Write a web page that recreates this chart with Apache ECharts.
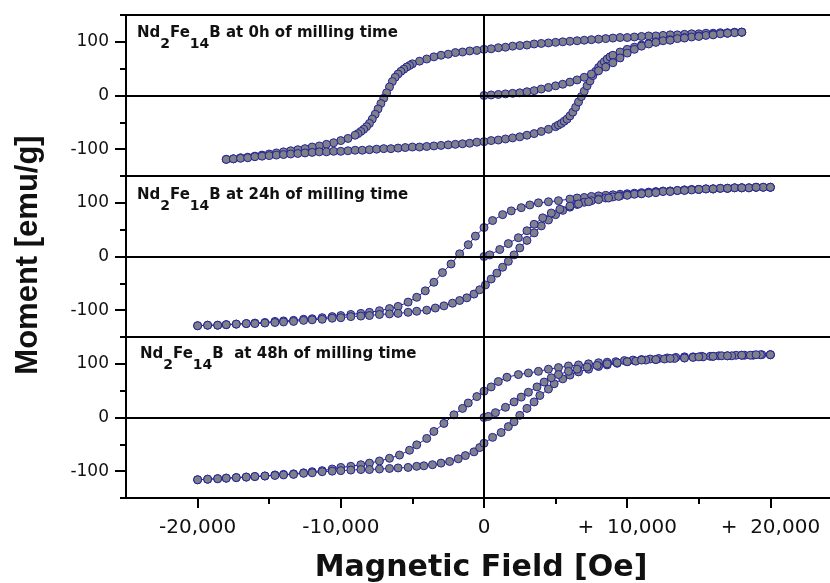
<!DOCTYPE html>
<html>
<head>
<meta charset="utf-8">
<script src="https://cdn.jsdelivr.net/npm/echarts@6/dist/echarts.min.js"></script>
<style>
html,body{margin:0;padding:0;background:#fff}
#chart{width:830px;height:583px}
</style>
</head>
<body>
<div id="chart"></div>
<script>
var millingTimes = ['0h', '24h', '48h'];
var fieldTicks = [-20000, -10000, 0, 10000, 20000];
var fieldMinorTicks = [-15000, -5000, 5000, 15000];
var momentTicks = [-100, 0, 100];
var momentMinorTicks = [-150, -50, 50, 150];

// 0h : [field Oe, moment emu/g]
var loop0hDown = [[18000,118],[17500,118],[17000,117],[16500,117],[16000,116],[15500,116],[15000,115],[14500,115],[14000,114],[13500,113],[13000,113],[12500,112],[12000,111],[11500,111],[11000,110],[10500,109],[10000,108],[9500,108],[9000,107],[8500,106],[8000,105],[7500,104],[7000,103],[6500,102],[6000,101],[5500,100],[5000,99],[4500,98],[4000,97],[3500,96],[3000,94],[2500,93],[2000,92],[1500,90],[1000,89],[500,87],[0,86],[-500,84],[-1000,83],[-1500,81],[-2000,80],[-2500,77],[-3000,75],[-3500,72],[-4000,68],[-4500,64],[-5000,59],[-5200,56],[-5400,53],[-5600,49],[-5800,45],[-6000,40],[-6200,34],[-6400,26],[-6600,16],[-6800,5],[-7000,-5],[-7200,-15],[-7400,-25],[-7600,-35],[-7800,-44],[-8000,-52],[-8200,-58],[-8400,-63],[-8600,-67],[-8800,-71],[-9000,-74],[-9500,-80],[-10000,-84],[-10500,-88],[-11000,-91],[-11500,-94],[-12000,-96],[-12500,-99],[-13000,-101],[-13500,-103],[-14000,-105],[-14500,-107],[-15000,-109],[-15500,-111],[-16000,-113],[-16500,-115],[-17000,-116],[-17500,-118],[-18000,-119]];
var loop0hUp = [[-18000,-119],[-17500,-118],[-17000,-117],[-16500,-116],[-16000,-114],[-15500,-113],[-15000,-112],[-14500,-111],[-14000,-110],[-13500,-109],[-13000,-108],[-12500,-107],[-12000,-106],[-11500,-105],[-11000,-105],[-10500,-104],[-10000,-104],[-9500,-103],[-9000,-102],[-8500,-102],[-8000,-101],[-7500,-100],[-7000,-99],[-6500,-99],[-6000,-98],[-5500,-97],[-5000,-96],[-4500,-96],[-4000,-95],[-3500,-94],[-3000,-93],[-2500,-92],[-2000,-91],[-1500,-90],[-1000,-89],[-500,-87],[0,-86],[500,-84],[1000,-83],[1500,-81],[2000,-79],[2500,-77],[3000,-74],[3500,-71],[4000,-67],[4500,-63],[5000,-58],[5200,-55],[5400,-52],[5600,-48],[5800,-44],[6000,-38],[6200,-31],[6400,-22],[6600,-12],[6800,-2],[7000,8],[7200,18],[7400,27],[7600,37],[7800,45],[8000,52],[8200,58],[8400,63],[8600,68],[8800,72],[9000,75],[9500,81],[10000,86],[10500,90],[11000,94],[11500,97],[12000,100],[12500,102],[13000,104],[13500,106],[14000,108],[14500,109],[15000,111],[15500,112],[16000,114],[16500,115],[17000,116],[17500,117],[18000,118]];
var loop0hInitial = [[0,0],[500,1],[1000,2],[1500,3],[2000,4],[2500,5],[3000,7],[3500,9],[4000,12],[4500,15],[5000,18],[5500,21],[6000,25],[6500,29],[7000,34],[7500,40],[8000,46],[8500,53],[9000,61],[9500,70],[10000,79],[10500,86],[11000,92],[11500,96],[12000,99],[13000,103],[14000,107],[15000,110],[16000,113],[17000,116],[18000,118]];

// 24h
var loop24hDown = [[20000,129],[19500,129],[19000,129],[18500,128],[18000,128],[17500,128],[17000,127],[16500,127],[16000,126],[15500,126],[15000,125],[14500,125],[14000,124],[13500,123],[13000,122],[12500,122],[12000,121],[11500,120],[11000,119],[10500,118],[10000,117],[9500,116],[9000,115],[8500,114],[8000,113],[7500,112],[7000,110],[6500,109],[6000,107],[5200,104],[4500,102],[3800,100],[3200,96],[2600,91],[1900,85],[1300,78],[600,67],[0,54],[-600,38],[-1100,22],[-1700,5],[-2300,-14],[-2900,-30],[-3500,-48],[-4100,-64],[-4700,-76],[-5300,-85],[-6000,-93],[-6600,-97],[-7300,-101],[-8000,-104],[-8600,-106],[-9300,-108],[-10000,-110],[-10600,-112],[-11300,-114],[-12000,-116],[-12600,-117],[-13300,-119],[-14000,-120],[-14600,-121],[-15300,-123],[-16000,-124],[-16600,-125],[-17300,-126],[-18000,-127],[-18600,-128],[-19300,-128],[-20000,-129]];
var loop24hUp = [[-20000,-129],[-19300,-128],[-18600,-128],[-18000,-127],[-17300,-126],[-16600,-125],[-16000,-125],[-15300,-124],[-14600,-123],[-14000,-122],[-13300,-121],[-12600,-119],[-12000,-118],[-11300,-117],[-10600,-115],[-10000,-114],[-9300,-112],[-8600,-111],[-8000,-110],[-7300,-108],[-6600,-107],[-6000,-106],[-5300,-104],[-4700,-102],[-4000,-100],[-3400,-96],[-2800,-92],[-2200,-87],[-1700,-82],[-1200,-77],[-700,-70],[-300,-62],[100,-53],[500,-42],[900,-31],[1300,-20],[1700,-9],[2100,3],[2500,16],[3000,30],[3500,44],[4000,57],[4500,68],[5000,78],[5500,86],[6000,92],[6500,97],[7000,101],[7500,104],[8000,107],[8500,109],[9000,111],[9500,113],[10000,115],[10500,116],[11000,117],[11500,118],[12000,120],[12500,121],[13000,122],[13500,123],[14000,124],[14500,124],[15000,125],[15500,126],[16000,126],[16500,127],[17000,127],[17500,128],[18000,128],[18500,128],[19000,129],[19500,129],[20000,129]];
var loop24hInitial = [[0,0],[400,3],[1100,13],[1700,24],[2400,35],[3000,48],[3500,60],[4100,72],[4700,81],[5300,88],[6000,94],[6600,98],[7300,102],[8000,106],[8700,109],[9400,112],[10000,114],[11000,117],[12000,119],[13000,121],[14000,123],[15000,125],[16000,126],[17000,127],[18000,128],[19000,129],[20000,129]];

// 48h
var loop48hDown = [[20000,117],[19400,117],[18800,116],[18200,116],[17600,116],[17000,115],[16400,115],[15800,114],[15200,114],[14600,113],[14000,113],[13400,112],[12800,111],[12200,110],[11600,109],[11000,108],[10400,107],[9800,106],[9200,104],[8600,103],[8000,102],[7300,100],[6600,98],[5900,96],[5200,93],[4500,90],[3800,86],[3100,83],[2400,80],[1600,75],[1000,67],[500,57],[0,49],[-500,39],[-1100,27],[-1500,17],[-2100,5],[-2800,-11],[-3500,-26],[-4000,-39],[-4700,-51],[-5200,-61],[-5900,-70],[-6600,-76],[-7300,-81],[-8000,-85],[-8600,-88],[-9300,-91],[-10000,-93],[-10600,-96],[-11300,-99],[-12000,-101],[-12600,-103],[-13300,-105],[-14000,-106],[-14600,-107],[-15300,-109],[-16000,-110],[-16600,-111],[-17300,-112],[-18000,-113],[-18600,-114],[-19300,-115],[-20000,-116]];
var loop48hUp = [[-20000,-116],[-19300,-115],[-18600,-114],[-18000,-113],[-17300,-112],[-16600,-111],[-16000,-110],[-15300,-109],[-14600,-108],[-14000,-107],[-13300,-106],[-12600,-104],[-12000,-103],[-11300,-101],[-10600,-100],[-10000,-99],[-9300,-98],[-8600,-97],[-8000,-97],[-7300,-96],[-6600,-95],[-6000,-94],[-5300,-93],[-4700,-91],[-4200,-90],[-3600,-88],[-3000,-85],[-2400,-82],[-1800,-77],[-1300,-71],[-700,-64],[-300,-56],[0,-48],[600,-37],[1200,-28],[1700,-17],[2100,-8],[2500,4],[3000,17],[3500,29],[3900,41],[4500,53],[4900,63],[5500,72],[6000,79],[6600,85],[7300,90],[8000,95],[8600,98],[9300,101],[10000,104],[10600,105],[11300,107],[12000,108],[12600,109],[13300,110],[14000,111],[14600,112],[15300,113],[16000,114],[16600,115],[17300,115],[18000,116],[18600,116],[19300,117],[20000,117]];
var loop48hInitial = [[0,0],[300,2],[800,9],[1500,19],[2100,29],[2600,38],[3100,47],[3700,57],[4200,66],[4700,74],[5200,80],[5900,86],[6500,90],[7200,94],[7900,97],[8600,100],[9300,102],[10000,104],[11000,107],[12000,108],[13000,110],[14000,111],[15000,113],[16000,114],[17000,115],[18000,116],[19000,117],[20000,117]];

var loops = [
    [loop0hDown, loop0hUp, loop0hInitial],
    [loop24hDown, loop24hUp, loop24hInitial],
    [loop48hDown, loop48hUp, loop48hInitial]
];

var chart = echarts.init(document.getElementById('chart'));
var panelTops = [15, 176, 337];
var panelTitleTops = [26, 188, 347];
var panelTitleLefts = [137, 137, 140];
var font = 'DejaVu Sans';

function fmtField(v){
    if(v === 0) return '0';
    var s = Math.abs(v).toString().replace(/\B(?=(\d{3})+(?!\d))/g, ',');
    return v < 0 ? '-' + s : '+  ' + s;
}

var grids = [], xAxes = [], yAxes = [], series = [], titles = [];
panelTops.forEach(function(top, i){
    // plot area runs past the right edge of the canvas, as in the cropped original
    grids.push({left: 126, width: 716, top: top, height: 161, show: true,
        outerBoundsMode: 'none', containLabel: false,
        borderColor: '#000', borderWidth: 2, backgroundColor: 'transparent'});
    xAxes.push({
        gridIndex: i, type: 'value', min: -25000, max: 25000, interval: 5000, position: 'bottom',
        splitLine: {show: false},
        axisLine: {onZero: false, lineStyle: {color: '#000', width: 2}},
        axisTick: {show: i === 2, customValues: fieldTicks, length: 10, lineStyle: {color: '#000', width: 2}},
        axisLabel: {show: i === 2, customValues: fieldTicks, formatter: fmtField, margin: 20,
            fontFamily: font, fontSize: 20, color: '#111'}
    });
    yAxes.push({
        gridIndex: i, type: 'value', min: -150, max: 150, interval: 50, position: 'left',
        splitLine: {show: false},
        axisLine: {onZero: false, lineStyle: {color: '#000', width: 2}},
        axisTick: {customValues: momentTicks, length: 11, lineStyle: {color: '#000', width: 2}},
        axisLabel: {customValues: momentTicks, margin: 17, fontFamily: font, fontSize: 17, color: '#111'}
    });
    var names = ['down', 'up', 'initial'];
    loops[i].forEach(function(pts, k){
        var s = {
            type: 'line', name: millingTimes[i] + ' ' + names[k],
            xAxisIndex: i, yAxisIndex: i, data: pts,
            symbol: 'circle', symbolSize: 8, showSymbol: true,
            itemStyle: {color: '#808088', borderColor: '#22229a', borderWidth: 1},
            lineStyle: {color: '#22229a', width: 1},
            clip: true, silent: true
        };
        if(k === 0){
            s.markLine = {silent: true, symbol: 'none', label: {show: false},
                lineStyle: {color: '#000', width: 2, type: 'solid'},
                data: [{yAxis: 0}, {xAxis: 0}]};
        }
        series.push(s);
    });
    var gap = i === 2 ? '  ' : ' ';
    titles.push({
        left: panelTitleLefts[i], top: panelTitleTops[i], padding: 0,
        text: '{n|Nd}{s|2}{n|Fe}{s|14}{n|B' + gap + 'at ' + millingTimes[i] + ' of milling time}',
        textStyle: {rich: {
            n: {fontFamily: font, fontWeight: 'bold', fontSize: 15, color: '#111', lineHeight: 18, verticalAlign: 'top'},
            s: {fontFamily: font, fontWeight: 'bold', fontSize: 14, color: '#111', lineHeight: 36, verticalAlign: 'middle'}
        }}
    });
});

// minor ticks
xAxes.push({
    gridIndex: 2, type: 'value', min: -25000, max: 25000, interval: 5000, position: 'bottom',
    splitLine: {show: false}, axisLine: {show: false, onZero: false},
    axisTick: {customValues: fieldMinorTicks, length: 6, lineStyle: {color: '#000', width: 2}},
    axisLabel: {show: false}
});
panelTops.forEach(function(top, i){
    yAxes.push({
        gridIndex: i, type: 'value', min: -150, max: 150, interval: 50, position: 'left',
        splitLine: {show: false}, axisLine: {show: false, onZero: false},
        axisTick: {customValues: momentMinorTicks, length: 6, lineStyle: {color: '#000', width: 2}},
        axisLabel: {show: false}
    });
});

chart.setOption({
    animation: false,
    backgroundColor: '#fff',
    title: titles,
    grid: grids,
    xAxis: xAxes,
    yAxis: yAxes,
    series: series,
    graphic: [
        {type: 'text', x: 28, y: 255, rotation: Math.PI / 2,
            style: {text: 'Moment [emu/g]', fontFamily: 'Liberation Sans', fontWeight: 'bold', fontSize: 31,
                fill: '#111', textAlign: 'center', textVerticalAlign: 'middle'}},
        {type: 'text', x: 481, y: 568,
            style: {text: 'Magnetic Field [Oe]', fontFamily: font, fontWeight: 'bold', fontSize: 30,
                fill: '#111', textAlign: 'center', textVerticalAlign: 'middle'}}
    ]
});
</script>
</body>
</html>
